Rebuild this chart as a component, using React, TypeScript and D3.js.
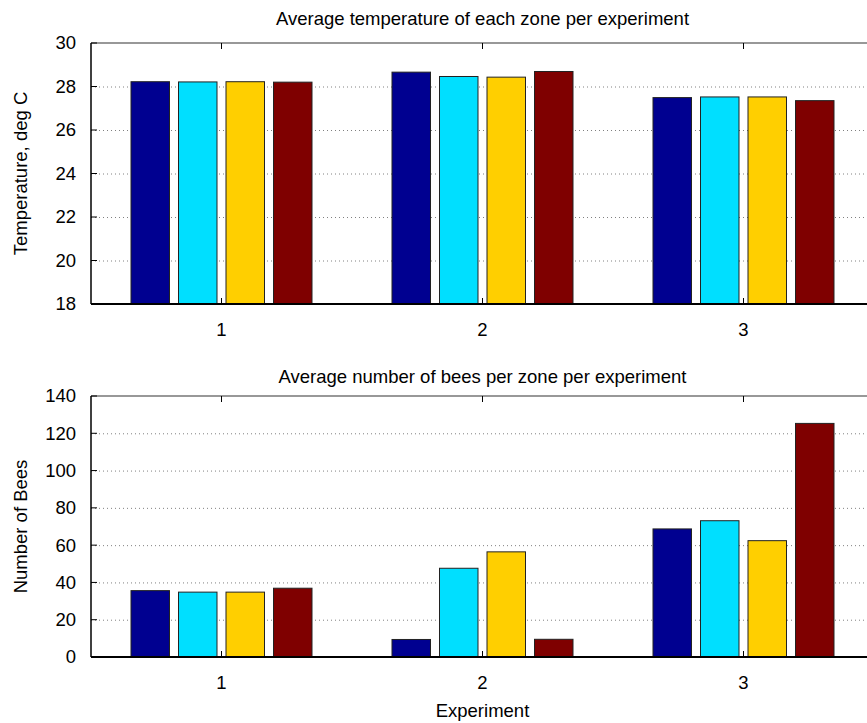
import { useEffect, useRef } from "react";
import * as d3 from "d3";

const experiments = [1, 2, 3];
const zones = ["Zone 1", "Zone 2", "Zone 3", "Zone 4"];
const zoneColors = ["#000090", "#00dfff", "#ffcf00", "#7f0000"];

// rows = experiment, columns = zone
const temperature = [
  [28.22, 28.21, 28.22, 28.2],
  [28.66, 28.46, 28.43, 28.69],
  [27.49, 27.52, 27.52, 27.35],
];
const bees = [
  [35.6, 34.8, 34.8, 36.9],
  [9.4, 47.6, 56.4, 9.5],
  [68.7, 73.1, 62.4, 125.3],
];

const tempTicks = [18, 20, 22, 24, 26, 28, 30];
const beeTicks = [0, 20, 40, 60, 80, 100, 120, 140];

const W = 867;
const H = 723;
const FONT = "'Liberation Sans', Arial, sans-serif";
const FS = 18.5;

export default function App() {
  const ref = useRef<SVGSVGElement>(null);
  useEffect(() => {
    document.body.style.margin = "0";
    if (!ref.current) return;
    const svg = d3.select(ref.current);
    svg.selectAll("*").remove();

    const x = d3.scaleLinear().domain([0.5, 3.5]).range([91, 874]);
    const step = 0.182;
    const bw = 0.1475;

    const panel = (
      data: number[][],
      ticks: number[],
      top: number,
      bottom: number,
      title: string,
      ylabel: string,
      titleY: number,
      xLabel?: string
    ) => {
      const y = d3
        .scaleLinear()
        .domain([ticks[0], ticks[ticks.length - 1]])
        .range([bottom, top]);
      const g = svg.append("g");

      // grid
      g.selectAll("line.grid")
        .data(ticks.slice(1, -1))
        .join("line")
        .attr("x1", x(0.5))
        .attr("x2", x(3.5))
        .attr("y1", (d) => y(d) + 0.5)
        .attr("y2", (d) => y(d) + 0.5)
        .attr("stroke", "#808080")
        .attr("stroke-width", 1)
        .attr("stroke-dasharray", "1,3");

      // bars
      experiments.forEach((e, i) => {
        g.selectAll(null)
          .data(data[i])
          .join("rect")
          .attr("x", (_, j) => x(e + (j - 1.5) * step - bw / 2))
          .attr("width", x(bw) - x(0))
          .attr("y", (d) => y(d))
          .attr("height", (d) => bottom - y(d))
          .attr("fill", (_, j) => zoneColors[j])
          .attr("stroke", "#222")
          .attr("stroke-width", 1);
      });

      // frame
      g.append("line")
        .attr("x1", x(0.5))
        .attr("x2", x(3.5))
        .attr("y1", top)
        .attr("y2", top)
        .attr("stroke", "#333")
        .attr("stroke-width", 1.2);
      g.append("line")
        .attr("x1", x(0.5))
        .attr("x2", x(3.5))
        .attr("y1", bottom)
        .attr("y2", bottom)
        .attr("stroke", "#000")
        .attr("stroke-width", 2);
      g.append("line")
        .attr("x1", x(0.5))
        .attr("x2", x(0.5))
        .attr("y1", top)
        .attr("y2", bottom)
        .attr("stroke", "#000")
        .attr("stroke-width", 1.5);

      // y ticks
      g.selectAll("line.yt")
        .data(ticks)
        .join("line")
        .attr("x1", x(0.5))
        .attr("x2", x(0.5) + 6)
        .attr("y1", (d) => y(d))
        .attr("y2", (d) => y(d))
        .attr("stroke", "#000");
      g.selectAll("text.yl")
        .data(ticks)
        .join("text")
        .attr("x", 76)
        .attr("y", (d) => y(d))
        .attr("dy", "0.35em")
        .attr("text-anchor", "end")
        .attr("font-family", FONT)
        .attr("font-size", FS)
        .text((d) => d);

      // x ticks top and bottom
      experiments.forEach((e) => {
        g.append("line")
          .attr("x1", x(e))
          .attr("x2", x(e))
          .attr("y1", bottom)
          .attr("y2", bottom - 6)
          .attr("stroke", "#000");
        g.append("line")
          .attr("x1", x(e))
          .attr("x2", x(e))
          .attr("y1", top)
          .attr("y2", top + 6)
          .attr("stroke", "#000");
        g.append("text")
          .attr("x", x(e))
          .attr("y", bottom + 32)
          .attr("text-anchor", "middle")
          .attr("font-family", FONT)
          .attr("font-size", FS)
          .text(e);
      });

      g.append("text")
        .attr("x", x(2))
        .attr("y", titleY)
        .attr("text-anchor", "middle")
        .attr("font-family", FONT)
        .attr("font-size", FS)
        .text(title);

      g.append("text")
        .attr("transform", `translate(27,${(top + bottom) / 2}) rotate(-90)`)
        .attr("text-anchor", "middle")
        .attr("font-family", FONT)
        .attr("font-size", FS)
        .text(ylabel);

      if (xLabel) {
        g.append("text")
          .attr("x", x(2))
          .attr("y", bottom + 60)
          .attr("text-anchor", "middle")
          .attr("font-family", FONT)
          .attr("font-size", FS)
          .text(xLabel);
      }
    };

    panel(temperature, tempTicks, 43, 304, "Average temperature of each zone per experiment", "Temperature, deg C", 25);
    panel(bees, beeTicks, 396, 657, "Average number of bees per zone per experiment", "Number of Bees", 383, "Experiment");
  }, []);
  return <svg ref={ref} width={W} height={H} style={{ display: "block", background: "#fff" }} />;
}
